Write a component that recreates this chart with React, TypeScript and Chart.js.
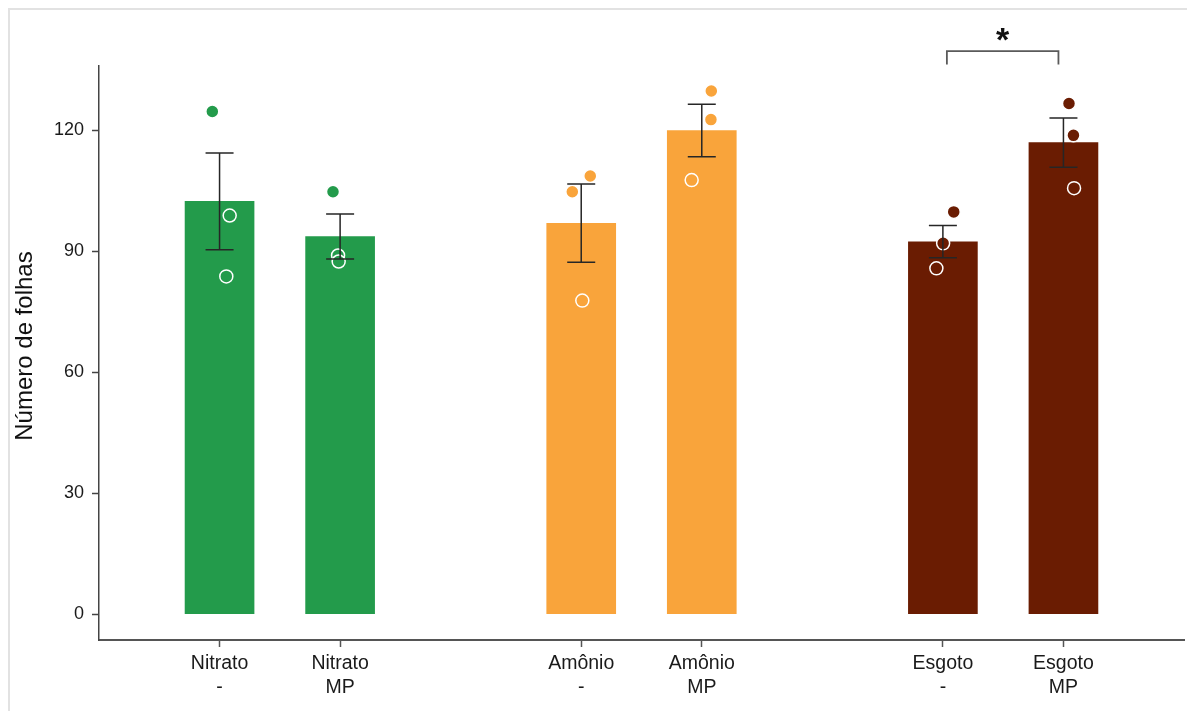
import React, { useEffect, useRef } from 'react';
import { Chart, registerables } from 'chart.js';

Chart.register(...registerables);

// ---- data ----
const categoryLabels: string[][] = [
  ['Nitrato', '-'],
  ['Nitrato', 'MP'],
  ['Amônio', '-'],
  ['Amônio', 'MP'],
  ['Esgoto', '-'],
  ['Esgoto', 'MP'],
];
const categoryPositions = [1, 2, 4, 5, 7, 8];
const meanValues = [102.4, 93.7, 97.0, 120.0, 92.4, 117.0];
const standardErrors = [12.0, 5.6, 9.7, 6.5, 4.0, 6.1];
const replicateValues = [
  [124.7, 98.9, 83.8],
  [104.8, 89.0, 87.5],
  [108.7, 104.8, 77.8],
  [129.8, 122.7, 107.7],
  [99.8, 92.0, 85.8],
  [126.7, 118.8, 105.7],
];
const replicateJitter = [
  [-0.06, 0.084, 0.056],
  [-0.059, -0.017, -0.012],
  [0.075, -0.074, 0.009],
  [0.079, 0.076, -0.084],
  [0.09, 0.002, -0.054],
  [0.046, 0.083, 0.088],
];
const yTickValues = [0, 30, 60, 90, 120];
const significancePair = { fromIndex: 4, toIndex: 5, y: 139.7, label: '*' };
const yAxisTitle = 'Número de folhas';

// ---- styles ----
const barColors = ['#239B4B', '#239B4B', '#F9A43B', '#F9A43B', '#6A1C02', '#6A1C02'];
const FONT = '"Liberation Sans", Arial, Helvetica, sans-serif';
const CANVAS_W = 1182;
const CANVAS_H = 701;

const overlayPlugin = {
  id: 'overlay',
  afterDatasetsDraw(chart: any) {
    const { ctx, scales } = chart;
    const xs = scales.x;
    const ys = scales.y;
    ctx.save();
    // error bars
    ctx.strokeStyle = '#262626';
    ctx.lineWidth = 1.5;
    const cap = 14;
    categoryPositions.forEach((p, i) => {
      const x = xs.getPixelForValue(p);
      const yt = ys.getPixelForValue(meanValues[i] + standardErrors[i]);
      const yb = ys.getPixelForValue(meanValues[i] - standardErrors[i]);
      ctx.beginPath();
      ctx.moveTo(x, yt);
      ctx.lineTo(x, yb);
      ctx.moveTo(x - cap, yt);
      ctx.lineTo(x + cap, yt);
      ctx.moveTo(x - cap, yb);
      ctx.lineTo(x + cap, yb);
      ctx.stroke();
    });
    ctx.restore();
  },
  afterDraw(chart: any) {
    const { ctx, scales } = chart;
    const xs = scales.x;
    const ys = scales.y;
    ctx.save();
    // significance bracket
    const x1 = xs.getPixelForValue(categoryPositions[significancePair.fromIndex]) + 4;
    const x2 = xs.getPixelForValue(categoryPositions[significancePair.toIndex]) - 5;
    const yTop = ys.getPixelForValue(significancePair.y);
    ctx.strokeStyle = '#5a5a5a';
    ctx.lineWidth = 1.8;
    ctx.beginPath();
    ctx.moveTo(x1, yTop + 13.5);
    ctx.lineTo(x1, yTop);
    ctx.lineTo(x2, yTop);
    ctx.lineTo(x2, yTop + 13.5);
    ctx.stroke();
    ctx.fillStyle = '#111111';
    ctx.font = `bold 34px ${FONT}`;
    ctx.textAlign = 'center';
    ctx.textBaseline = 'alphabetic';
    ctx.fillText(significancePair.label, (x1 + x2) / 2, yTop);
    // y axis title
    ctx.translate(15, 336);
    ctx.rotate(-Math.PI / 2);
    ctx.font = `24px ${FONT}`;
    ctx.textAlign = 'center';
    ctx.textBaseline = 'middle';
    ctx.fillStyle = '#111111';
    ctx.fillText(yAxisTitle, 0, 0);
    ctx.restore();
  },
};

export default function App() {
  const canvasRef = useRef<HTMLCanvasElement | null>(null);

  useEffect(() => {
    document.documentElement.style.overflow = 'hidden';
    document.body.style.overflow = 'hidden';
    const canvas = canvasRef.current;
    if (!canvas) return;

    const pointData: { x: number; y: number }[] = [];
    const pointColors: string[] = [];
    categoryPositions.forEach((p, i) => {
      replicateValues[i].forEach((v, j) => {
        pointData.push({ x: p + replicateJitter[i][j], y: v });
        pointColors.push(barColors[i]);
      });
    });

    const chart = new Chart(canvas, {
      type: 'bar',
      data: {
        datasets: [
          {
            type: 'bar',
            data: categoryPositions.map((p, i) => ({ x: p, y: meanValues[i] })),
            backgroundColor: barColors,
            borderWidth: 0,
            barThickness: 69,
            order: 2,
          } as any,
          {
            type: 'scatter',
            data: pointData,
            pointBackgroundColor: pointColors,
            pointBorderColor: '#ffffff',
            pointBorderWidth: 1.5,
            pointRadius: 6.5,
            showLine: false,
            order: 1,
            clip: false,
          } as any,
        ],
      },
      options: {
        responsive: false,
        animation: false,
        events: [],
        layout: { padding: { top: 56, right: 5, left: 0, bottom: 0 } },
        plugins: {
          legend: { display: false },
          tooltip: { enabled: false },
        },
        scales: {
          x: {
            type: 'linear',
            min: 0,
            max: 9,
            offset: false,
            afterBuildTicks: (s: any) => {
              s.ticks = categoryPositions.map((v) => ({ value: v }));
            },
            afterFit: (s: any) => {
              s.height = 71;
            },
            ticks: {
              autoSkip: false,
              maxRotation: 0,
              minRotation: 0,
              padding: 5,
              color: '#1a1a1a',
              font: { family: FONT, size: 19.5, lineHeight: 1.23 },
              callback: (value: any) => {
                const idx = categoryPositions.indexOf(Number(value));
                return idx >= 0 ? categoryLabels[idx] : '';
              },
            },
            grid: {
              offset: false,
              drawOnChartArea: false,
              drawTicks: true,
              tickLength: 7,
              tickWidth: 1.5,
              tickColor: '#555555',
            },
            border: { display: true, color: '#555555', width: 2 },
          },
          y: {
            type: 'linear',
            min: -6.4,
            max: 136.0,
            afterBuildTicks: (s: any) => {
              s.ticks = yTickValues.map((v) => ({ value: v }));
            },
            afterFit: (s: any) => {
              s.width = 89;
            },
            ticks: {
              padding: 8,
              color: '#1a1a1a',
              font: { family: FONT, size: 18 },
            },
            grid: {
              drawOnChartArea: false,
              drawTicks: true,
              tickLength: 7,
              tickWidth: 1.5,
              tickColor: '#444444',
            },
            border: { display: true, color: '#444444', width: 1.5 },
          },
        },
      } as any,
      plugins: [overlayPlugin],
    });

    return () => {
      chart.destroy();
    };
  }, []);

  return (
    <div
      style={{
        position: 'relative',
        width: 1186,
        height: 703,
        boxSizing: 'border-box',
        borderTop: '2px solid #e2e2e2',
        borderLeft: '2px solid #e2e2e2',
        borderRight: '2px solid #e2e2e2',
        background: '#ffffff',
        overflow: 'hidden',
      }}
    >
      <canvas
        ref={canvasRef}
        width={CANVAS_W}
        height={CANVAS_H}
        style={{ display: 'block', width: CANVAS_W, height: CANVAS_H }}
      />
    </div>
  );
}
